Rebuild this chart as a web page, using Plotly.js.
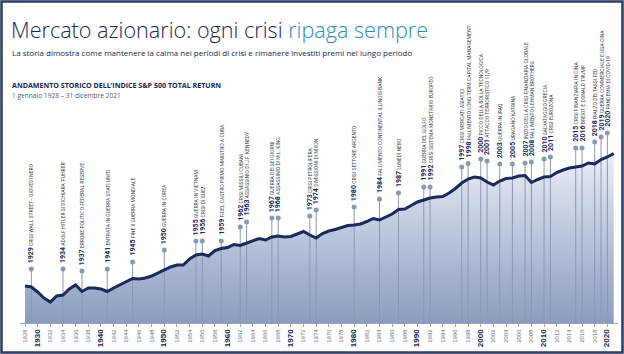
<!DOCTYPE html>
<html>
<head>
<meta charset="utf-8">
<script src="https://cdn.plot.ly/plotly-3.0.1.min.js"></script>
<style>
html,body{margin:0;padding:0;background:#fff;}
#chart{width:624px;height:354px;}
</style>
</head>
<body>
<div id="chart"></div>
<script>
// S&P 500 total return (relative level)
const spYears = [1928,1929,1930,1931,1932,1933,1934,1935,1936,1937,1938,1939,1940,1941,1942,1943,1944,1945,1946,1947,1948,1949,1950,1951,1952,1953,1954,1955,1956,1957,1958,1959,1960,1961,1962,1963,1964,1965,1966,1967,1968,1969,1970,1971,1972,1973,1974,1975,1976,1977,1978,1979,1980,1981,1982,1983,1984,1985,1986,1987,1988,1989,1990,1991,1992,1993,1994,1995,1996,1997,1998,1999,2000,2001,2002,2003,2004,2005,2006,2007,2008,2009,2010,2011,2012,2013,2014,2015,2016,2017,2018,2019,2020,2021];
const spLevel = [37,36,31,25,21,27,28,34,38,31.5,35,35,34,31.5,35,38,41,44.5,44,45,47,50,53,56,58,58,64,68,69,67,72.5,74.5,75.5,78.5,77.5,80,82.5,84.5,83,86,87,86,86.5,89,91.5,88,85,89.5,92,93.5,95.5,97.5,98,99,101.5,104.5,103,106,109,113.5,114,117.5,121,123,125,126,126.5,130,134.5,140,144,146,145,141,138,142,144.5,145,147,147.5,140.5,143.5,146,146.5,150.5,153,155,156,157,160,159,163.5,166,169.5];

// crisis events
const crisisYears = [1929,1934,1937,1941,1945,1950,1955,1956,1959,1962,1963,1967,1968,1973,1974,1980,1984,1987,1991,1992,1997,1998,2000,2001,2003,2005,2007,2008,2010,2011,2015,2016,2018,2019,2020];
const crisisLabels = [
 "CRISI WALL STREET - GIOVEDÌ NERO",
 "ADOLF HITLER SI DICHIARA \u2018FÜHRER\u2019",
 "ERRORE POLITICO FEDERAL RESERVE",
 "ENTRATA IN GUERRA STATI UNITI",
 "FINE II GUERRA MONDIALE",
 "GUERRA IN COREA",
 "GUERRA IN VIETNAM",
 "CRISI DI SUEZ",
 "FIDEL CASTRO PRIMO MINISTRO A CUBA",
 "CRISI MISSILI CUBANI",
 "ASSASSINIO DI J.F. KENNEDY",
 "GUERRA DEI SEI GIORNI",
 "ASSASSINIO DI M.L. KING",
 "CRISI PETROLIFERA",
 "DIMISSIONI DI NIXON",
 "CRISI SETTORE ARGENTO",
 "FALLIMENTO CONTINENTAL ILLINOIS BANK",
 "LUNEDÌ NERO",
 "GUERRA DEL GOLFO",
 "CRISI SISTEMA MONETARIO EUROPEO",
 "CRISI MERCATI ASIATICI",
 "FALLIMENTO LONG TERM CAPITAL MANAGEMENT",
 "PICCO DELLA BOLLA TECNOLOGICA",
 "ATTACCO TERRORISTICO 11/9",
 "GUERRA IN IRAQ",
 "URAGANO KATRINA",
 "INIZIO DELLA CRISI FINANZIARIA GLOBALE",
 "FALLIMENTO LEHMAN BROTHERS",
 "SALVATAGGIO GRECIA",
 "CRISI EUROZONA",
 "CRISI FINANZIARIA IN CINA",
 "BREXIT E DONALD TRUMP",
 "RIALZO DEI TASSI FED",
 "GUERRA COMMERCIALE E USA-CINA",
 "PANDEMIA DI COVID-19"
];
const crisisDotLevel = [54,54,52,54,61,73,82,82,82,96,101,105,105,107,113,116,124,130,136,136,156,159.5,164,162,159,159,160,161,164,166,175,175,181,186,190];

// x axis ticks
const tickYears = [];
for (let y = 1928; y <= 2020; y += 2) tickYears.push(y);
const tickLabels = tickYears.map(y => y % 10 === 0
  ? "<b><span style='font-size:8px;color:#1b2a5e'>" + y + "</span></b>"
  : String(y));

const titleMain = "Mercato azionario: ogni crisi ";
const titleAccent = "ripaga sempre";
const subtitle = "La storia dimostra come mantenere la calma nei periodi di crisi e rimanere investiti premi nel lungo periodo";
const chartHeading = "ANDAMENTO STORICO DELL\u2019INDICE S&P 500 TOTAL RETURN";
const chartPeriod = "1 gennaio 1928 \u2013 31 dicembre 2021";

// geometry helpers (plot area in pixels)
const L = 20, R = 618, T = 100, B = 323;
const px = p => (p - L) / (R - L);
const py = p => (B - p) / (B - T);

const NAVY = "#1c2a5a";
const GRAY = "#8a98b2";

const vx = [], vy = [];
crisisYears.forEach((y, i) => { vx.push(y, y, null); vy.push(0, crisisDotLevel[i], null); });

const traces = [
  { x: spYears, y: spLevel, type: "scatter", mode: "none", fill: "tozeroy",
    fillgradient: { type: "vertical", start: 0, stop: 175,
      colorscale: [[0, "#8b9dc0"], [0.5, "#b9c6dc"], [1, "#eef2f8"]] },
    hoverinfo: "skip" },
  { x: vx, y: vy, type: "scatter", mode: "lines", line: { color: GRAY, width: 1 }, hoverinfo: "skip" },
  { x: spYears, y: spLevel, type: "scatter", mode: "lines",
    line: { color: NAVY, width: 3, shape: "linear" }, hoverinfo: "skip" },
  { x: crisisYears, y: crisisDotLevel, type: "scatter", mode: "markers",
    marker: { color: GRAY, size: 5 }, hoverinfo: "skip" }
];

const annotations = crisisYears.map((y, i) => ({
  x: y, y: crisisDotLevel[i], xref: "x", yref: "y",
  yshift: 4, xanchor: "center", yanchor: "bottom",
  textangle: -90, showarrow: false,
  text: "<b><span style='font-size:7px;color:" + NAVY + "'>" + y + "</span></b> " + crisisLabels[i],
  font: { family: "Liberation Sans Narrow, Arial Narrow, Roboto, sans-serif", size: 5, color: "#3a3f4c" }
}));

annotations.push(
  { xref: "paper", yref: "paper", x: px(9), y: py(13), xanchor: "left", yanchor: "top", showarrow: false,
    text: titleMain + "<span style='color:#2a8db5'>" + titleAccent + "</span>",
    font: { family: "Open Sans, sans-serif", size: 21.6, weight: 300, color: "#1b2553" } },
  { xref: "paper", yref: "paper", x: px(10), y: py(52), xanchor: "left", yanchor: "middle", showarrow: false,
    text: subtitle, font: { family: "Open Sans, sans-serif", size: 8.0, color: "#1b2553" } },
  { xref: "paper", yref: "paper", x: px(10), y: py(85), xanchor: "left", yanchor: "middle", showarrow: false,
    text: "<b>" + chartHeading + "</b>", font: { family: "Open Sans, sans-serif", size: 7.1, color: "#1b2553" } },
  { xref: "paper", yref: "paper", x: px(10), y: py(96), xanchor: "left", yanchor: "middle", showarrow: false,
    text: chartPeriod, font: { family: "Open Sans, sans-serif", size: 6.6, color: "#555a66" } }
);

const layout = {
  width: 624, height: 354,
  margin: { l: L, r: 624 - R, t: T, b: 354 - B, pad: 0 },
  paper_bgcolor: "#ffffff", plot_bgcolor: "#ffffff",
  showlegend: false,
  xaxis: {
    range: [1927.21, 2021.68], tickvals: tickYears, ticktext: tickLabels,
    tickangle: -90, ticks: "outside", ticklen: 3, tickcolor: "#9aa4b5",
    showline: true, linecolor: "#9aa4b5", linewidth: 1, showgrid: false, zeroline: false,
    tickfont: { family: "Liberation Sans, Arial, sans-serif", size: 6, color: "#6b7080" }
  },
  yaxis: { range: [0, B - T], visible: false, showgrid: false, zeroline: false, fixedrange: true },
  annotations: annotations,
  shapes: [
    { type: "rect", xref: "paper", yref: "paper", x0: px(1.5), x1: px(622.5), y0: py(352.5), y1: py(1.5),
      line: { color: "#2a3a66", width: 2.5 }, fillcolor: "rgba(0,0,0,0)", layer: "above" }
  ]
};

Plotly.newPlot("chart", traces, layout, { staticPlot: true, displayModeBar: false });
</script>
</body>
</html>
